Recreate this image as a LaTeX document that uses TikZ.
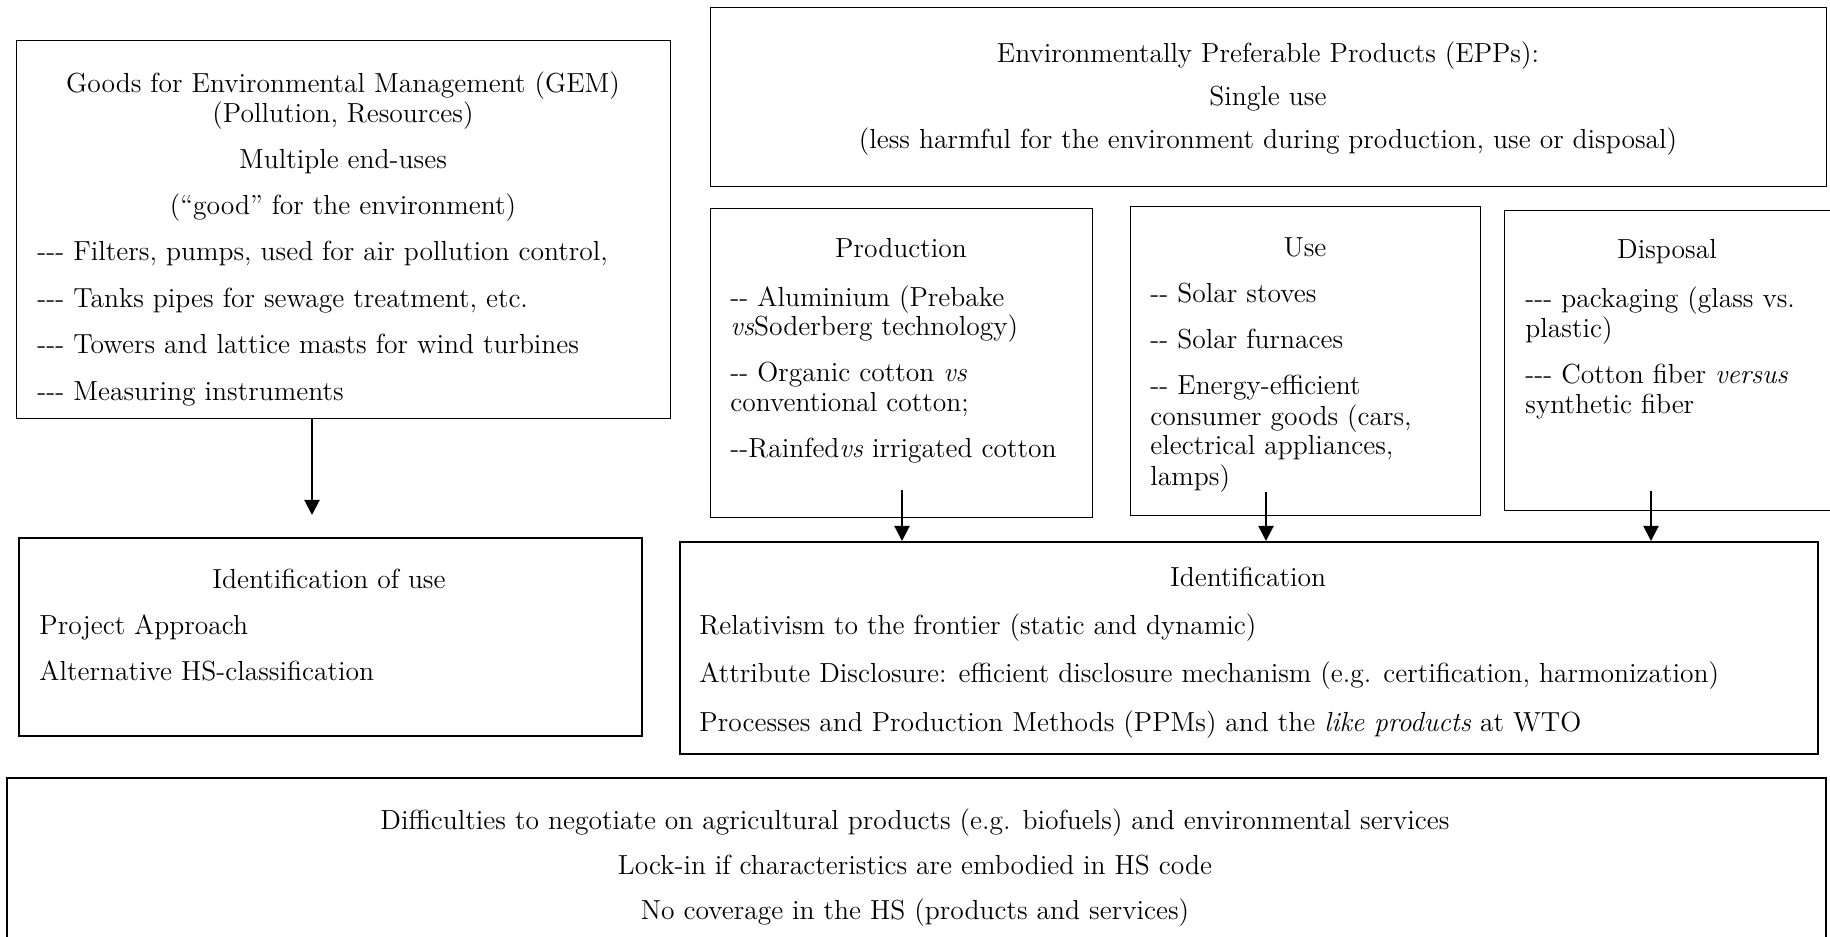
\documentclass[tikz,border=0pt]{standalone}
\usepackage{tikz}
\usetikzlibrary{arrows.meta}
\usetikzlibrary{positioning}

\newcommand{\pxu}{0.45pt}
\newcommand{\twodash}{-{}-}
\newcommand{\threedash}{-{}-{}-}

\tikzset{
  box/.style={draw, line width=0.6pt, inner sep=0pt, anchor=north west},
  boxb/.style={box, line width=1pt},
  txt/.style={inner sep=0pt, font=\fontsize{12.4}{13.5}\selectfont},
  head/.style={txt, align=center, anchor=base},
  list/.style={txt, align=left, anchor=base west},
  arr/.style={line width=0.9pt, -{Triangle[length=6.8pt,width=6.8pt]}}
}

\begin{document}
\begin{tikzpicture}[x=0.45pt, y=-0.45pt]
\useasboundingbox (0,0) rectangle (1830,937);
\clip (0,0) rectangle (1830,937);

% boxes
\node[box, minimum width=654*\pxu, minimum height=378*\pxu] (gem) at (16,40) {};
\node[box, minimum width=1116*\pxu, minimum height=179*\pxu] (epp) at (710,7) {};
\node[box, minimum width=382*\pxu, minimum height=309*\pxu] (prod) at (710,208) {};
\node[box, minimum width=350*\pxu, minimum height=309*\pxu] (use) at (1130,206) {};
\node[box, minimum width=336*\pxu, minimum height=300*\pxu] (disp) at (1504,210) {};
\node[box, line width=0.75pt, minimum width=623*\pxu, minimum height=198*\pxu] (iduse) at (18,537) {};
\node[boxb, minimum width=1138*\pxu, minimum height=212*\pxu] (ident) at (679,541) {};
\node[boxb, minimum width=1819*\pxu, minimum height=173*\pxu] (diff) at (6,777) {};

% text, placed at the baseline of the last line
\node[head] (gemhead) at (343,215) {Goods for Environmental Management (GEM)\\(Pollution, Resources)\\[7.4pt]Multiple end-uses\\[7.4pt](``good'' for the environment)};
\node[list] (gemlist) at (37,400) {\threedash{} Filters, pumps, used for air pollution control,\\[7.4pt]\threedash{} Tanks pipes for sewage treatment, etc.\\[7.4pt]\threedash{} Towers and lattice masts for wind turbines\\[7.4pt]\threedash{} Measuring instruments};

\node[head] (epphead) at (1268,149) {Environmentally Preferable Products (EPPs):\\[5.85pt]Single use\\[5.85pt](less harmful for the environment during production, use or disposal)};

\node[head] (prodhead) at (901,258) {Production};
\node[list] (prodlist) at (730,458) {\twodash{} Aluminium (Prebake\\\textit{vs}Soderberg technology)\\[7.2pt]\twodash{} Organic cotton \textit{vs}\\conventional cotton;\\[7.2pt]\twodash Rainfed\textit{vs} irrigated cotton};

\node[head] (usehead) at (1305,257) {Use};
\node[list] (uselist) at (1150,485) {\twodash{} Solar stoves\\[7.4pt]\twodash{} Solar furnaces\\[7.4pt]\twodash{} Energy-efficient\\consumer goods (cars,\\electrical appliances,\\lamps)};

\node[head] (disphead) at (1667,259) {Disposal};
\node[list] (displist) at (1525,414) {\threedash{} packaging (glass vs.\\plastic)\\[7.2pt]\threedash{} Cotton fiber \textit{versus}\\synthetic fiber};

% identification
\node[head] (idusehead) at (329,588) {Identification of use};
\node[list] (iduselist) at (39,680) {Project Approach\\[7.2pt]Alternative HS-classification};

\node[head] (identhead) at (1248,586) {Identification};
\node[list] (identlist) at (699,731) {Relativism to the frontier (static and dynamic)\\[8.3pt]Attribute Disclosure: efficient disclosure mechanism (e.g. certification, harmonization)\\[8.3pt]Processes and Production Methods (PPMs) and the \textit{like products} at WTO};

\node[head] (difftext) at (915,919) {Difficulties to negotiate on agricultural products (e.g. biofuels) and environmental services\\[6.75pt]Lock-in if characteristics are embodied in HS code\\[6.75pt]No coverage in the HS (products and services)};

% arrows
\coordinate (gemfoot) at (312,418);
\coordinate (prodfoot) at (902,490);
\coordinate (usefoot) at (1266,492);
\coordinate (dispfoot) at (1651,491);
\draw[arr, shorten >=9.9pt] (gemfoot) -- (gemfoot |- iduse.north);
\draw[arr] (prodfoot) -- (prodfoot |- ident.north);
\draw[arr] (usefoot) -- (usefoot |- ident.north);
\draw[arr] (dispfoot) -- (dispfoot |- ident.north);
\end{tikzpicture}
\end{document}
